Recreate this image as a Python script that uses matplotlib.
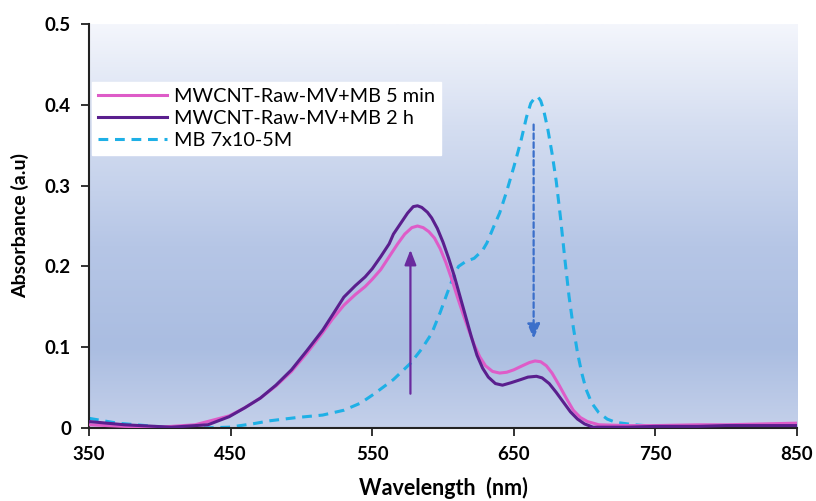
import numpy as np
import matplotlib
matplotlib.use("Agg")
import matplotlib.pyplot as plt
from matplotlib.colors import LinearSegmentedColormap

# ---- data ----
wl_5min = [350, 375, 400, 425, 449, 460, 471, 482, 493, 504, 515, 522, 530, 538, 545, 550, 556, 562, 568, 573, 578, 582, 586, 590, 594, 598, 602, 606, 610, 614, 618, 622, 626, 630, 635, 640, 645, 650, 656, 661, 665, 669, 673, 677, 682, 687, 692, 697, 702, 710, 730, 750, 780, 800, 825, 850]
abs_5min = [0.004, 0.002, 0.001, 0.004, 0.015, 0.025, 0.037, 0.052, 0.07, 0.093, 0.118, 0.135, 0.152, 0.165, 0.175, 0.184, 0.196, 0.212, 0.228, 0.24, 0.248, 0.25, 0.248, 0.243, 0.235, 0.222, 0.205, 0.185, 0.163, 0.142, 0.122, 0.103, 0.088, 0.077, 0.07, 0.068, 0.069, 0.072, 0.077, 0.081, 0.083, 0.082, 0.077, 0.068, 0.053, 0.037, 0.022, 0.013, 0.008, 0.004, 0.003, 0.003, 0.004, 0.004, 0.005, 0.006]

wl_2h = [350, 375, 408, 434, 449, 460, 471, 482, 493, 504, 515, 522, 530, 538, 545, 550, 556, 562, 565, 570, 575, 579, 582, 585, 589, 592, 596, 600, 604, 608, 612, 616, 620, 624, 628, 632, 637, 642, 648, 655, 660, 666, 670, 675, 680, 685, 690, 695, 700, 706, 730, 750, 780, 800, 825, 850]
abs_2h = [0.008, 0.004, 0.001, 0.004, 0.014, 0.025, 0.037, 0.053, 0.072, 0.096, 0.121, 0.14, 0.162, 0.176, 0.187, 0.197, 0.212, 0.228, 0.24, 0.253, 0.266, 0.274, 0.275, 0.273, 0.267, 0.26, 0.247, 0.23, 0.21, 0.188, 0.163, 0.138, 0.113, 0.09, 0.074, 0.063, 0.055, 0.053, 0.056, 0.06, 0.063, 0.064, 0.062, 0.055, 0.044, 0.032, 0.02, 0.011, 0.005, 0.001, 0.001, 0.002, 0.002, 0.003, 0.003, 0.003]

wl_mb = [350, 370, 390, 408, 430, 449, 465, 478, 497, 515, 530, 542, 552, 565, 577, 585, 592, 598, 603, 608, 611, 616, 622, 628, 631, 636, 640, 645, 650, 655, 659, 662, 665, 667, 669, 671, 674, 677, 680, 683, 686, 689, 692, 695, 698, 701, 705, 710, 716, 722, 735, 750, 800, 850]
abs_mb = [0.012, 0.006, 0.003, 0.0, 0.0, 0.001, 0.005, 0.009, 0.013, 0.016, 0.022, 0.031, 0.043, 0.06, 0.08, 0.098, 0.117, 0.143, 0.167, 0.19, 0.2, 0.206, 0.21, 0.22, 0.229, 0.25, 0.266, 0.293, 0.323, 0.355, 0.385, 0.402, 0.409, 0.41, 0.405, 0.394, 0.37, 0.34, 0.305, 0.26, 0.21, 0.163, 0.125, 0.093, 0.068, 0.048, 0.031, 0.019, 0.011, 0.007, 0.004, 0.002, 0.002, 0.002]

labels = ["MWCNT-Raw-MV+MB 5 min", "MWCNT-Raw-MV+MB 2 h", "MB 7x10-5M"]
x_ticks = [350, 450, 550, 650, 750, 850]
y_ticks = [0, 0.1, 0.2, 0.3, 0.4, 0.5]
y_tick_labels = ["0", "0.1", "0.2", "0.3", "0.4", "0.5"]

# annotation arrows (x, y_start, y_end)
arrow_up = (577, 0.039, 0.224)
arrow_down = (664, 0.379, 0.107)

# ---- figure ----
fig = plt.figure(figsize=(8.16, 5.01), dpi=100)
ax = fig.add_axes([89/816, 1 - 428/501, (797-89)/816, (428-24)/501])

# gradient background
cmap = LinearSegmentedColormap.from_list("bg", [
    (0.0, "#c4d0ea"), (0.2, "#aabde1"), (0.45, "#b6c6e6"),
    (0.75, "#d5def1"), (1.0, "#f4f6fc")])
grad = np.linspace(0, 1, 256).reshape(-1, 1)
ax.imshow(grad, cmap=cmap, aspect="auto", extent=[0, 1, 0, 1],
          origin="lower", transform=ax.transAxes, zorder=0)

ax.plot(wl_5min, abs_5min, color="#de5cc8", lw=2.2, label=labels[0], zorder=3)
ax.plot(wl_2h, abs_2h, color="#5a1f8e", lw=2.2, label=labels[1], zorder=4)
ax.plot(wl_mb, abs_mb, color="#1eb0e6", lw=2.2, ls=(0, (3.2, 2.2)), label=labels[2], zorder=2)

ax.annotate("", xy=(arrow_up[0], arrow_up[2]), xytext=(arrow_up[0], arrow_up[1]),
            arrowprops=dict(arrowstyle="-|>,head_length=0.9,head_width=0.35",
                            color="#6a2a9e", lw=1.6), zorder=5)
ax.annotate("", xy=(arrow_down[0], arrow_down[2]), xytext=(arrow_down[0], arrow_down[1]),
            arrowprops=dict(arrowstyle="-|>,head_length=0.9,head_width=0.38",
                            color="#3b6fca", lw=1.6, ls=(0, (2.5, 1.5))), zorder=5)

ax.set_xlim(350, 850)
ax.set_ylim(0, 0.5)
ax.set_xticks(x_ticks)
ax.set_xticklabels([str(v) for v in x_ticks])
ax.set_yticks(y_ticks)
ax.set_yticklabels(y_tick_labels)

for s in ["top", "right"]:
    ax.spines[s].set_visible(False)
for s in ["left", "bottom"]:
    ax.spines[s].set_linewidth(1.5)
    ax.spines[s].set_color("#222222")

ax.tick_params(axis="both", direction="out", length=6, width=1.3, color="#222222", pad=7)
for lab in ax.get_xticklabels() + ax.get_yticklabels():
    lab.set_fontfamily("Lato")
    lab.set_fontweight("bold")
    lab.set_fontsize(13.5)

ax.set_xlabel("Wavelength  (nm)", fontfamily="Lato", fontweight="bold", fontsize=15.5, labelpad=10)
ax.set_ylabel("Absorbance (a.u)", fontfamily="Lato", fontweight="bold", fontsize=14, labelpad=11)

leg = ax.legend(loc="upper left", bbox_to_anchor=(0.004, 0.856), frameon=True,
                fancybox=False, handlelength=3.5, handletextpad=0.35,
                borderpad=0.3, labelspacing=0.25, borderaxespad=0,
                prop=dict(family="Lato", size=14.3))
leg.get_frame().set_facecolor("white")
leg.get_frame().set_edgecolor("white")
leg.get_frame().set_alpha(1)
leg.set_zorder(6)

fig.savefig("out.png", dpi=100)
